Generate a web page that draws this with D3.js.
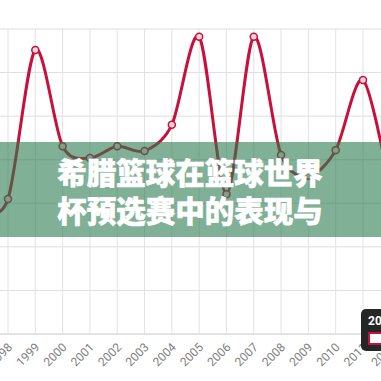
<!DOCTYPE html>
<html>
<head>
<meta charset="utf-8">
<script src="https://cdn.jsdelivr.net/npm/d3@7"></script>
<style>
  html, body { margin: 0; padding: 0; background: #fff; }
  svg { display: block; }
</style>
</head>
<body>
<div id="chart"></div>
<script>
// 年份與數值
const years  = [1997, 1998, 1999, 2000, 2001, 2002, 2003, 2004, 2005, 2006, 2007, 2008, 2009, 2010, 2011, 2012];
const values = [28, 31, 65.2, 43.1, 40.4, 43.1, 42, 48, 68.2, 32.1, 68.2, 41.1, 36.3, 42.2, 58.3, 33];
const yTicks = [0, 10, 20, 30, 40, 50, 60, 70];
const titleLines = ['希腊篮球在篮球世界', '杯预选赛中的表现与'];
const tipLabel = '2012';

const W = 381, H = 381;
const svg = d3.select('#chart').append('svg')
  .attr('width', W).attr('height', H);

const x = d3.scaleLinear().domain([1998, 2011]).range([8, 363]);
const y = d3.scaleLinear().domain([0, 70]).range([334, 29]);

// 格線
const grid = svg.append('g');
grid.selectAll('line.h').data(yTicks).enter().append('line')
  .attr('x1', -40).attr('x2', W + 40)
  .attr('y1', d => y(d)).attr('y2', d => y(d))
  .attr('stroke', d => d === 0 ? '#c8c8c8' : '#dedede')
  .attr('stroke-width', 1);
grid.selectAll('line.v').data(years).enter().append('line')
  .attr('x1', d => x(d)).attr('x2', d => x(d))
  .attr('y1', y(70)).attr('y2', y(0))
  .attr('stroke', '#e2e2e2')
  .attr('stroke-width', 1);

// x 軸文字
svg.append('g').selectAll('text').data(years).enter().append('text')
  .text(d => d)
  .attr('transform', d => `translate(${x(d) - 1},${y(0) + 8}) rotate(-45)`)
  .attr('text-anchor', 'end')
  .attr('dy', '0.7em')
  .attr('font-family', 'Roboto, "DejaVu Sans", sans-serif')
  .attr('font-size', 12)
  .attr('fill', '#808080');

// 折線
const line = d3.line()
  .x((d, i) => x(years[i]))
  .y(d => y(d))
  .curve(d3.curveCardinal.tension(0.1));

svg.append('path').datum(values)
  .attr('d', line)
  .attr('fill', 'none')
  .attr('stroke', '#c8103c')
  .attr('stroke-width', 3);

svg.append('g').selectAll('circle').data(values).enter().append('circle')
  .attr('cx', (d, i) => x(years[i]))
  .attr('cy', d => y(d))
  .attr('r', 3.5)
  .attr('fill', '#f6d6dc')
  .attr('stroke', '#c8103c')
  .attr('stroke-width', 1.5);

// 綠色標題橫幅
svg.append('rect')
  .attr('x', 0).attr('y', 142)
  .attr('width', W).attr('height', 95)
  .attr('fill', 'rgb(43,123,80)')
  .attr('fill-opacity', 0.6);

svg.append('g').selectAll('text').data(titleLines).enter().append('text')
  .text(d => d)
  .attr('x', 190)
  .attr('y', (d, i) => 184 + i * 38)
  .attr('text-anchor', 'middle')
  .attr('font-family', '"Noto Sans CJK SC", sans-serif')
  .attr('font-weight', 900)
  .attr('font-size', 29.5)
  .attr('fill', '#fff')
  .attr('stroke', '#fff')
  .attr('stroke-width', 0.6)
  .attr('stroke-linejoin', 'round');

// 提示框
const tip = svg.append('g').attr('transform', 'translate(361,309)');
tip.append('rect')
  .attr('width', 60).attr('height', 42)
  .attr('rx', 5)
  .attr('fill', '#262626');
tip.append('text')
  .text(tipLabel)
  .attr('x', 7).attr('y', 16)
  .attr('font-family', 'Roboto, "DejaVu Sans", sans-serif')
  .attr('font-weight', 'bold')
  .attr('font-size', 12)
  .attr('fill', '#fff');
tip.append('rect')
  .attr('x', 8).attr('y', 24)
  .attr('width', 30).attr('height', 11)
  .attr('fill', '#fff')
  .attr('stroke', '#c8103c')
  .attr('stroke-width', 2);
</script>
</body>
</html>
